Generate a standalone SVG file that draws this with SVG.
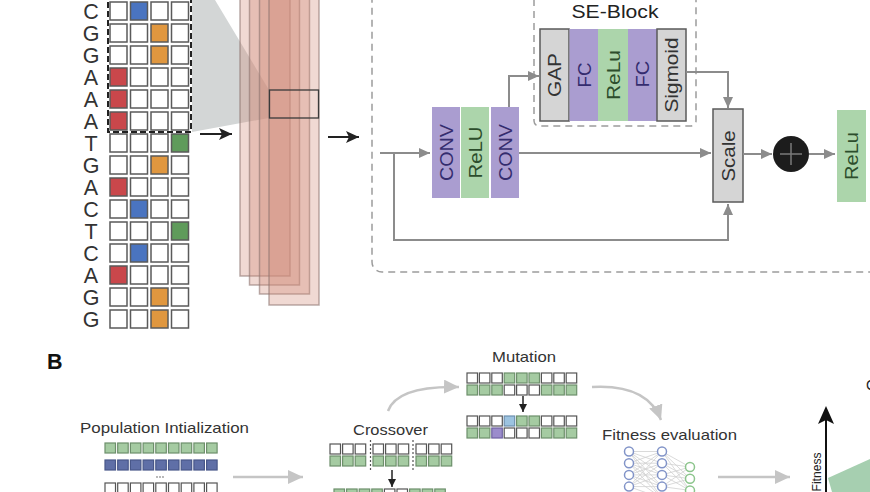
<svg xmlns="http://www.w3.org/2000/svg" width="870" height="492" viewBox="0 0 870 492">
<defs>
<style>
.cell{fill:#fff;stroke:#5a5a5a;stroke-width:1.5}
.A{fill:#c9474b}.C{fill:#4a74c0}.G{fill:#e0973f}.T{fill:#5f9b5b}
.seq{font-family:"Liberation Sans",Arial,sans-serif;font-size:21.5px;fill:#333;text-anchor:middle}
.fm{fill:rgb(210,140,120);fill-opacity:.33;stroke:#8c7570;stroke-opacity:.6;stroke-width:1.5}
.purple{fill:#aa9dd0}.green{fill:#acd5ab}.grayb{fill:#d5d5d5;stroke:#5a5a5a;stroke-width:1.5}
.lbl{font-family:"Liberation Sans",Arial,sans-serif;font-size:18px;text-anchor:middle}
.tp{fill:#342c6e}.tg{fill:#2c4d2c}.tk{fill:#333}
.conn{fill:none;stroke:#8c8c8c;stroke-width:2}
.dash{fill:none;stroke:#9c9c9c;stroke-width:1.5;stroke-dasharray:7 5}
.blk{fill:none;stroke:#222;stroke-width:2}
.light{fill:none;stroke:#c5c5c5;stroke-width:2.5}
.txt{font-family:"Liberation Sans",Arial,sans-serif;font-size:15px;fill:#333}
.sqw{fill:#fff;stroke:#555;stroke-width:1.2}
.sqg{fill:#a5cba2;stroke:#6d8f6b;stroke-width:1.2}
.sqb{fill:#5f6fa7;stroke:#485789;stroke-width:1.2}
.sql{fill:#9cc3e0;stroke:#6d8fae;stroke-width:1.2}
.sqp{fill:#9b8ccc;stroke:#6e62a0;stroke-width:1.2}
.nb{fill:#fff;stroke:#8294c8;stroke-width:1.5}
.ng{fill:#fff;stroke:#8cc58c;stroke-width:1.5}
</style>
<marker id="ahk" markerUnits="userSpaceOnUse" markerWidth="14" markerHeight="12" refX="13" refY="6" orient="auto"><path d="M0,0 L13,6 L0,12 L3,6 z" fill="#222"/></marker>
<marker id="ahg" markerUnits="userSpaceOnUse" markerWidth="12" markerHeight="10" refX="11" refY="5" orient="auto"><path d="M0,0 L11,5 L0,10 z" fill="#8c8c8c"/></marker>
<marker id="ahl" markerUnits="userSpaceOnUse" markerWidth="16" markerHeight="14" refX="15" refY="7" orient="auto"><path d="M0,0 L15,7 L0,14 z" fill="#c5c5c5"/></marker>
<marker id="ahs" markerUnits="userSpaceOnUse" markerWidth="9" markerHeight="8" refX="8" refY="4" orient="auto"><path d="M0,0 L8,4 L0,8 z" fill="#222"/></marker>
</defs>
<rect width="870" height="492" fill="#fff"/>

<!-- projection shading -->
<polygon points="192,0 215,0 269,90 269,118 192,132" fill="#d3d6d6"/>

<g id="sequence">
<g class="seq">
<text x="91" y="19">C</text><text x="91" y="41">G</text><text x="91" y="63">G</text><text x="91" y="85">A</text><text x="91" y="107">A</text><text x="91" y="129">A</text><text x="91" y="151">T</text><text x="91" y="173">G</text><text x="91" y="195">A</text><text x="91" y="217">C</text><text x="91" y="239">T</text><text x="91" y="261">C</text><text x="91" y="283">A</text><text x="91" y="305">G</text><text x="91" y="327">G</text>
</g>
<g>
<rect class="cell" x="110" y="2" width="17" height="18"/><rect class="cell C" x="130.5" y="2" width="17" height="18"/><rect class="cell" x="151" y="2" width="17" height="18"/><rect class="cell" x="171.5" y="2" width="17" height="18"/>
<rect class="cell" x="110" y="24" width="17" height="18"/><rect class="cell" x="130.5" y="24" width="17" height="18"/><rect class="cell G" x="151" y="24" width="17" height="18"/><rect class="cell" x="171.5" y="24" width="17" height="18"/>
<rect class="cell" x="110" y="46" width="17" height="18"/><rect class="cell" x="130.5" y="46" width="17" height="18"/><rect class="cell G" x="151" y="46" width="17" height="18"/><rect class="cell" x="171.5" y="46" width="17" height="18"/>
<rect class="cell A" x="110" y="68" width="17" height="18"/><rect class="cell" x="130.5" y="68" width="17" height="18"/><rect class="cell" x="151" y="68" width="17" height="18"/><rect class="cell" x="171.5" y="68" width="17" height="18"/>
<rect class="cell A" x="110" y="90" width="17" height="18"/><rect class="cell" x="130.5" y="90" width="17" height="18"/><rect class="cell" x="151" y="90" width="17" height="18"/><rect class="cell" x="171.5" y="90" width="17" height="18"/>
<rect class="cell A" x="110" y="112" width="17" height="18"/><rect class="cell" x="130.5" y="112" width="17" height="18"/><rect class="cell" x="151" y="112" width="17" height="18"/><rect class="cell" x="171.5" y="112" width="17" height="18"/>
<rect class="cell" x="110" y="134" width="17" height="18"/><rect class="cell" x="130.5" y="134" width="17" height="18"/><rect class="cell" x="151" y="134" width="17" height="18"/><rect class="cell T" x="171.5" y="134" width="17" height="18"/>
<rect class="cell" x="110" y="156" width="17" height="18"/><rect class="cell" x="130.5" y="156" width="17" height="18"/><rect class="cell G" x="151" y="156" width="17" height="18"/><rect class="cell" x="171.5" y="156" width="17" height="18"/>
<rect class="cell A" x="110" y="178" width="17" height="18"/><rect class="cell" x="130.5" y="178" width="17" height="18"/><rect class="cell" x="151" y="178" width="17" height="18"/><rect class="cell" x="171.5" y="178" width="17" height="18"/>
<rect class="cell" x="110" y="200" width="17" height="18"/><rect class="cell C" x="130.5" y="200" width="17" height="18"/><rect class="cell" x="151" y="200" width="17" height="18"/><rect class="cell" x="171.5" y="200" width="17" height="18"/>
<rect class="cell" x="110" y="222" width="17" height="18"/><rect class="cell" x="130.5" y="222" width="17" height="18"/><rect class="cell" x="151" y="222" width="17" height="18"/><rect class="cell T" x="171.5" y="222" width="17" height="18"/>
<rect class="cell" x="110" y="244" width="17" height="18"/><rect class="cell C" x="130.5" y="244" width="17" height="18"/><rect class="cell" x="151" y="244" width="17" height="18"/><rect class="cell" x="171.5" y="244" width="17" height="18"/>
<rect class="cell A" x="110" y="266" width="17" height="18"/><rect class="cell" x="130.5" y="266" width="17" height="18"/><rect class="cell" x="151" y="266" width="17" height="18"/><rect class="cell" x="171.5" y="266" width="17" height="18"/>
<rect class="cell" x="110" y="288" width="17" height="18"/><rect class="cell" x="130.5" y="288" width="17" height="18"/><rect class="cell G" x="151" y="288" width="17" height="18"/><rect class="cell" x="171.5" y="288" width="17" height="18"/>
<rect class="cell" x="110" y="310" width="17" height="18"/><rect class="cell" x="130.5" y="310" width="17" height="18"/><rect class="cell G" x="151" y="310" width="17" height="18"/><rect class="cell" x="171.5" y="310" width="17" height="18"/>
</g>
<rect x="108" y="-10" width="83" height="142" fill="none" stroke="#222" stroke-width="2" stroke-dasharray="6 3"/>
</g>

<g id="feature-maps">
<rect class="fm" x="240" y="-30" width="50" height="306"/>
<rect class="fm" x="249.5" y="-30" width="50" height="315"/>
<rect class="fm" x="259.5" y="-30" width="50" height="324"/>
<rect class="fm" x="269" y="-30" width="50" height="335"/>
<rect x="269.5" y="90" width="49" height="28" fill="none" stroke="#3a3a3a" stroke-width="1.3"/>
</g>

<g id="residual-block">
<rect class="dash" x="372" y="-30" width="560" height="302" rx="10"/>
</g>
<g id="se-block">
<rect class="dash" x="534" y="-30" width="162" height="156" rx="5"/>
<text x="615" y="18" font-family="Liberation Sans, Arial, sans-serif" font-size="18.5" fill="#222" text-anchor="middle" textLength="87" lengthAdjust="spacingAndGlyphs">SE-Block</text>
</g>

<g id="conv1"><rect class="purple" x="432" y="107" width="28" height="91"/><text class="lbl tp" transform="translate(446,152.5) rotate(-90)" y="6.5" textLength="57" lengthAdjust="spacingAndGlyphs">CONV</text></g>
<g id="relu1"><rect class="green" x="461" y="107" width="28" height="91"/><text class="lbl tg" transform="translate(475,152.5) rotate(-90)" y="6.5" textLength="52" lengthAdjust="spacingAndGlyphs">ReLU</text></g>
<g id="conv2"><rect class="purple" x="491" y="107" width="28" height="91"/><text class="lbl tp" transform="translate(505,152.5) rotate(-90)" y="6.5" textLength="57" lengthAdjust="spacingAndGlyphs">CONV</text></g>

<g id="gap"><rect class="grayb" x="540" y="29" width="29" height="92"/><text class="lbl tk" transform="translate(554.5,75) rotate(-90)" y="6.5" textLength="44" lengthAdjust="spacingAndGlyphs">GAP</text></g>
<g id="fc1"><rect class="purple" x="569.5" y="29" width="28.5" height="92"/><text class="lbl tp" transform="translate(584,75) rotate(-90)" y="6.5" textLength="25" lengthAdjust="spacingAndGlyphs">FC</text></g>
<g id="relu-se"><rect class="green" x="598" y="29" width="30" height="92"/><text class="lbl tg" transform="translate(613,75) rotate(-90)" y="6.5" textLength="50" lengthAdjust="spacingAndGlyphs">ReLu</text></g>
<g id="fc2"><rect class="purple" x="628" y="29" width="29" height="92"/><text class="lbl tp" transform="translate(642.5,74) rotate(-90)" y="6.5" textLength="27" lengthAdjust="spacingAndGlyphs">FC</text></g>
<g id="sigmoid"><rect class="grayb" x="657" y="29" width="29" height="92"/><text class="lbl tk" transform="translate(671.5,75) rotate(-90)" y="6.5" textLength="75" lengthAdjust="spacingAndGlyphs">Sigmoid</text></g>

<g id="scale"><rect class="grayb" x="713" y="109" width="30" height="93"/><text class="lbl tk" transform="translate(728,156) rotate(-90)" y="6.5" textLength="51" lengthAdjust="spacingAndGlyphs">Scale</text></g>
<g id="add"><circle cx="791" cy="154" r="18" fill="#1c1c1c"/><path d="M780,154 H802 M791,143 V165" stroke="#7a7a7a" stroke-width="1.5"/></g>
<g id="relu-out"><rect class="green" x="837" y="110" width="29" height="92"/><text class="lbl tg" transform="translate(851.5,156) rotate(-90)" y="6.5" textLength="48" lengthAdjust="spacingAndGlyphs">ReLu</text></g>

<g id="connectors">
<path class="blk" d="M200,134 H232" marker-end="url(#ahk)"/>
<path class="blk" d="M328,137 H359" marker-end="url(#ahk)"/>
<path class="conn" d="M380,153 H430" marker-end="url(#ahg)"/>
<path class="conn" d="M394,153 V240 H728 V204" marker-end="url(#ahg)"/>
<path class="conn" d="M509,107 V76 H539" marker-end="url(#ahg)"/>
<path class="conn" d="M519,153 H711" marker-end="url(#ahg)"/>
<path class="conn" d="M686,72 H728 V108" marker-end="url(#ahg)"/>
<path class="conn" d="M743,154 H772" marker-end="url(#ahg)"/>
<path class="conn" d="M809,154 H835" marker-end="url(#ahg)"/>
<path class="light" d="M233,477 H303" marker-end="url(#ahl)"/>
<path class="light" d="M388,411 C394,394 418,386 459,387" marker-end="url(#ahl)"/>
<path class="light" d="M592,387 C628,385 652,396 661,420" marker-end="url(#ahl)"/>
<path class="light" d="M718,477 H790" marker-end="url(#ahl)"/>
<path d="M392,470 V487" stroke="#222" stroke-width="1.5" marker-end="url(#ahs)"/>
<path d="M523,396 V412" stroke="#222" stroke-width="1.5" marker-end="url(#ahs)"/>
</g>

<text x="47" y="369" font-family="Liberation Sans, Arial, sans-serif" font-size="21.5" font-weight="bold" fill="#111">B</text>

<g id="population">
<text class="txt" x="80" y="433" textLength="169" lengthAdjust="spacingAndGlyphs">Population Intialization</text>
<g class="sqg"><rect x="105" y="443" width="10.5" height="10"/><rect x="117.7" y="443" width="10.5" height="10"/><rect x="130.4" y="443" width="10.5" height="10"/><rect x="143.1" y="443" width="10.5" height="10"/><rect x="155.8" y="443" width="10.5" height="10"/><rect x="168.5" y="443" width="10.5" height="10"/><rect x="181.2" y="443" width="10.5" height="10"/><rect x="193.9" y="443" width="10.5" height="10"/><rect x="206.6" y="443" width="10.5" height="10"/></g>
<g class="sqb"><rect x="105" y="460" width="10.5" height="10"/><rect x="117.7" y="460" width="10.5" height="10"/><rect x="130.4" y="460" width="10.5" height="10"/><rect x="143.1" y="460" width="10.5" height="10"/><rect x="155.8" y="460" width="10.5" height="10"/><rect x="168.5" y="460" width="10.5" height="10"/><rect x="181.2" y="460" width="10.5" height="10"/><rect x="193.9" y="460" width="10.5" height="10"/><rect x="206.6" y="460" width="10.5" height="10"/></g>
<g fill="#999"><circle cx="157" cy="477" r="0.9"/><circle cx="160" cy="477" r="0.9"/><circle cx="163" cy="477" r="0.9"/></g>
<g class="sqw"><rect x="105" y="483" width="10.5" height="10"/><rect x="117.7" y="483" width="10.5" height="10"/><rect x="130.4" y="483" width="10.5" height="10"/><rect x="143.1" y="483" width="10.5" height="10"/><rect x="155.8" y="483" width="10.5" height="10"/><rect x="168.5" y="483" width="10.5" height="10"/><rect x="181.2" y="483" width="10.5" height="10"/><rect x="193.9" y="483" width="10.5" height="10"/><rect x="206.6" y="483" width="10.5" height="10"/></g>
</g>

<g id="crossover">
<text class="txt" x="353" y="435" textLength="75" lengthAdjust="spacingAndGlyphs">Crossover</text>
<g class="sqw"><rect x="330" y="444" width="10.5" height="10"/><rect x="342.6" y="444" width="10.5" height="10"/><rect x="355.2" y="444" width="10.5" height="10"/><rect x="373" y="444" width="10.5" height="10"/><rect x="385.6" y="444" width="10.5" height="10"/><rect x="398.2" y="444" width="10.5" height="10"/><rect x="416" y="444" width="10.5" height="10"/><rect x="428.6" y="444" width="10.5" height="10"/><rect x="441.2" y="444" width="10.5" height="10"/></g>
<g class="sqg"><rect x="330" y="456" width="10.5" height="10"/><rect x="342.6" y="456" width="10.5" height="10"/><rect x="355.2" y="456" width="10.5" height="10"/><rect x="373" y="456" width="10.5" height="10"/><rect x="385.6" y="456" width="10.5" height="10"/><rect x="398.2" y="456" width="10.5" height="10"/><rect x="416" y="456" width="10.5" height="10"/><rect x="428.6" y="456" width="10.5" height="10"/><rect x="441.2" y="456" width="10.5" height="10"/></g>
<path d="M370.5,440 V470 M413,440 V470" stroke="#555" stroke-width="1.2" stroke-dasharray="2 2"/>
<rect class="sqg" x="334" y="489" width="10.5" height="10"/><rect class="sqg" x="346.6" y="489" width="10.5" height="10"/><rect class="sqg" x="359.2" y="489" width="10.5" height="10"/><rect class="sqg" x="371.8" y="489" width="10.5" height="10"/><rect class="sqw" x="384.4" y="489" width="10.5" height="10" fill="#777"/><rect class="sqw" x="397" y="489" width="10.5" height="10"/><rect class="sqg" x="409.6" y="489" width="10.5" height="10"/><rect class="sqg" x="422.2" y="489" width="10.5" height="10"/><rect class="sqg" x="434.8" y="489" width="10.5" height="10"/>
</g>

<g id="mutation">
<text class="txt" x="492" y="362" textLength="64" lengthAdjust="spacingAndGlyphs">Mutation</text>
<rect class="sqw" x="467" y="373" width="10.5" height="10"/><rect class="sqw" x="479.4" y="373" width="10.5" height="10"/><rect class="sqw" x="491.8" y="373" width="10.5" height="10"/><rect class="sqg" x="504.2" y="373" width="10.5" height="10"/><rect class="sqg" x="516.6" y="373" width="10.5" height="10"/><rect class="sqg" x="529" y="373" width="10.5" height="10"/><rect class="sqw" x="541.4" y="373" width="10.5" height="10"/><rect class="sqw" x="553.8" y="373" width="10.5" height="10"/><rect class="sqw" x="566.2" y="373" width="10.5" height="10"/>
<rect class="sqg" x="467" y="385" width="10.5" height="10"/><rect class="sqg" x="479.4" y="385" width="10.5" height="10"/><rect class="sqg" x="491.8" y="385" width="10.5" height="10"/><rect class="sqw" x="504.2" y="385" width="10.5" height="10"/><rect class="sqw" x="516.6" y="385" width="10.5" height="10"/><rect class="sqw" x="529" y="385" width="10.5" height="10"/><rect class="sqg" x="541.4" y="385" width="10.5" height="10"/><rect class="sqg" x="553.8" y="385" width="10.5" height="10"/><rect class="sqg" x="566.2" y="385" width="10.5" height="10"/>
<rect class="sqw" x="467" y="416" width="10.5" height="10"/><rect class="sqw" x="479.4" y="416" width="10.5" height="10"/><rect class="sqw" x="491.8" y="416" width="10.5" height="10"/><rect class="sql" x="504.2" y="416" width="10.5" height="10"/><rect class="sqg" x="516.6" y="416" width="10.5" height="10"/><rect class="sqg" x="529" y="416" width="10.5" height="10"/><rect class="sqw" x="541.4" y="416" width="10.5" height="10"/><rect class="sqw" x="553.8" y="416" width="10.5" height="10"/><rect class="sqw" x="566.2" y="416" width="10.5" height="10"/>
<rect class="sqg" x="467" y="428" width="10.5" height="10"/><rect class="sqg" x="479.4" y="428" width="10.5" height="10"/><rect class="sqp" x="491.8" y="428" width="10.5" height="10"/><rect class="sqw" x="504.2" y="428" width="10.5" height="10"/><rect class="sqw" x="516.6" y="428" width="10.5" height="10"/><rect class="sqw" x="529" y="428" width="10.5" height="10"/><rect class="sqg" x="541.4" y="428" width="10.5" height="10"/><rect class="sqg" x="553.8" y="428" width="10.5" height="10"/><rect class="sqg" x="566.2" y="428" width="10.5" height="10"/>
</g>

<g id="fitness-evaluation">
<text class="txt" x="602" y="440" textLength="135" lengthAdjust="spacingAndGlyphs">Fitness evaluation</text>
<path stroke="#d0d0d0" stroke-width="0.8" fill="none" d="M629 451.5L662 451.5M629 451.5L662 463.2M629 451.5L662 474.9M629 451.5L662 486.6M629 451.5L662 498.3M629 463.2L662 451.5M629 463.2L662 463.2M629 463.2L662 474.9M629 463.2L662 486.6M629 463.2L662 498.3M629 474.9L662 451.5M629 474.9L662 463.2M629 474.9L662 474.9M629 474.9L662 486.6M629 474.9L662 498.3M629 486.6L662 451.5M629 486.6L662 463.2M629 486.6L662 474.9M629 486.6L662 486.6M629 486.6L662 498.3M662 451.5L690 467M662 451.5L690 478.7M662 451.5L690 490.4M662 463.2L690 467M662 463.2L690 478.7M662 463.2L690 490.4M662 474.9L690 467M662 474.9L690 478.7M662 474.9L690 490.4M662 486.6L690 467M662 486.6L690 478.7M662 486.6L690 490.4"/>
<circle class="nb" cx="629" cy="451.5" r="4.5"/><circle class="nb" cx="629" cy="463.2" r="4.5"/><circle class="nb" cx="629" cy="474.9" r="4.5"/><circle class="nb" cx="629" cy="486.6" r="4.5"/>
<circle class="nb" cx="662" cy="451.5" r="4.5"/><circle class="nb" cx="662" cy="463.2" r="4.5"/><circle class="nb" cx="662" cy="474.9" r="4.5"/><circle class="nb" cx="662" cy="486.6" r="4.5"/>
<circle class="ng" cx="690" cy="467" r="4.5"/><circle class="ng" cx="690" cy="478.7" r="4.5"/><circle class="ng" cx="690" cy="490.4" r="4.5"/>
</g>

<g id="fitness-plot">
<polygon points="828,478 870,459 870,492 832,492" fill="#a6cfb0"/>
<path d="M826,492 V418" stroke="#111" stroke-width="2"/>
<path d="M826,406 L834,424 L826,420 L818,424 Z" fill="#111"/>
<text transform="translate(821,472) rotate(-90)" font-family="Liberation Sans, Arial, sans-serif" font-size="12.5" fill="#222" text-anchor="middle" textLength="39" lengthAdjust="spacingAndGlyphs">Fitness</text>
<text x="866" y="390" font-family="Liberation Sans, Arial, sans-serif" font-size="14" fill="#222">C</text>
</g>
</svg>
